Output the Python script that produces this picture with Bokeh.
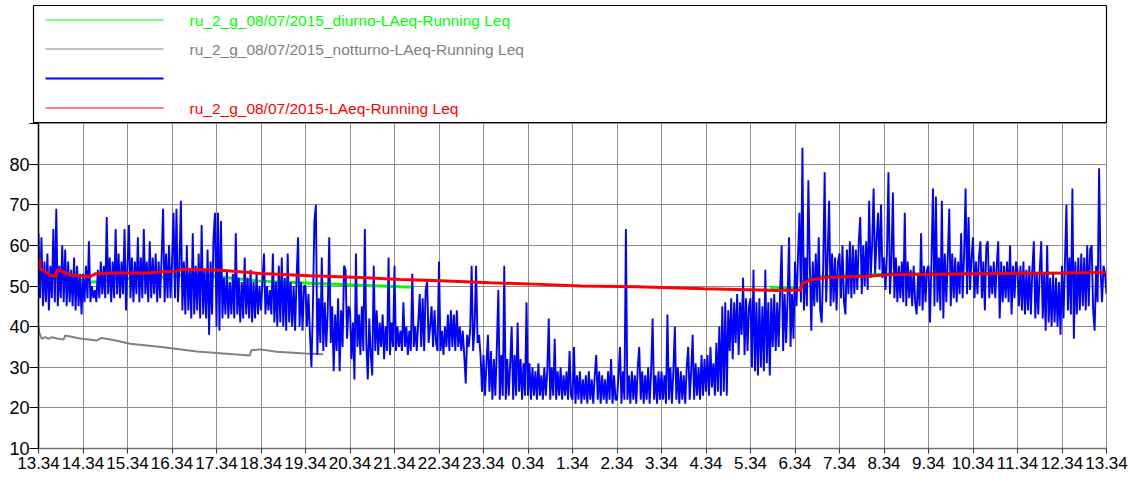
import numpy as np
from bokeh.plotting import figure
from bokeh.models import FixedTicker, Label, Range1d
from bokeh.core.properties import value
from bokeh.layouts import column, row
from bokeh.embed import file_html
from bokeh.resources import INLINE

# ---------------- data ----------------
# x axis: minutes elapsed since 13.34 (24 h window)
tick_minutes = list(range(0, 1441, 60))
hour_labels = ["13.34", "14.34", "15.34", "16.34", "17.34", "18.34", "19.34",
               "20.34", "21.34", "22.34", "23.34", "0.34", "1.34", "2.34",
               "3.34", "4.34", "5.34", "6.34", "7.34", "8.34", "9.34",
               "10.34", "11.34", "12.34", "13.34"]
y_ticks = [10, 20, 30, 40, 50, 60, 70, 80, 90]

legend_labels = ["ru_2_g_08/07/2015_diurno-LAeq-Running Leq",
                 "ru_2_g_08/07/2015_notturno-LAeq-Running Leq",
                 "",
                 "ru_2_g_08/07/2015-LAeq-Running Leq"]

# blue: short LAeq samples, one value every 2 minutes (30 per hour)
blue_step_min = 2
blue_db = [
    # 13.34
    63, 47, 62, 45, 56, 46, 58, 44, 55, 47, 64, 46, 69, 45, 55, 47, 60, 46, 59, 45,
    56, 46, 54, 45, 57, 44, 55, 45, 53, 43,
    # 14.34
    53, 46, 55, 47, 61, 46, 50, 47, 49, 46, 54, 47, 56, 48, 55, 47, 67, 48, 57, 46,
    56, 47, 64, 48, 58, 47, 56, 48, 64, 44,
    # 15.34
    55, 65, 47, 57, 46, 56, 48, 62, 46, 57, 47, 64, 48, 56, 46, 61, 47, 57, 48, 58,
    46, 56, 47, 57, 69, 46, 58, 47, 60, 47,
    # 16.34
    56, 68, 47, 69, 46, 55, 71, 44, 56, 43, 60, 44, 54, 42, 63, 43, 55, 44, 58, 42,
    65, 43, 54, 42, 59, 38, 56, 43, 62, 68,
    # 17.34
    40, 68, 39, 66, 42, 52, 43, 54, 42, 51, 43, 53, 42, 63, 43, 52, 41, 51, 42, 57,
    43, 52, 42, 54, 41, 51, 42, 53, 43, 50,
    # 18.34
    44, 51, 58, 43, 50, 44, 49, 43, 58, 41, 51, 40, 55, 41, 57, 40, 52, 39, 58, 41,
    51, 40, 50, 39, 52, 62, 40, 51, 39, 50,
    # 19.34
    50, 40, 48, 38, 30, 45, 66, 70, 33, 47, 36, 57, 34, 46, 35, 44, 62, 36, 45, 29,
    43, 34, 47, 29, 44, 35, 55, 54, 37, 45,
    # 20.34
    44, 32, 41, 27, 58, 35, 43, 33, 45, 34, 64, 36, 27, 42, 33, 28, 55, 34, 44, 33,
    41, 35, 43, 32, 40, 34, 57, 33, 41, 35,
    # 21.34
    55, 34, 40, 35, 39, 34, 46, 35, 40, 33, 39, 34, 53, 35, 40, 34, 41, 48, 35, 47,
    34, 49, 51, 36, 40, 45, 35, 44, 36, 34,
    # 22.34
    56, 34, 39, 33, 40, 35, 43, 34, 44, 35, 43, 34, 44, 35, 40, 34, 39, 33, 26, 38,
    35, 39, 55, 34, 40, 55, 36, 38, 33, 24,
    # 23.34
    33, 23, 31, 38, 24, 34, 22, 32, 23, 35, 49, 22, 33, 23, 55, 22, 32, 23, 31, 40,
    22, 33, 23, 41, 24, 32, 22, 31, 23, 46,
    # 0.34
    23, 31, 22, 30, 23, 29, 22, 31, 23, 28, 22, 30, 23, 29, 42, 22, 30, 23, 37, 22,
    29, 23, 30, 22, 28, 23, 29, 22, 34, 23,
    # 1.34
    22, 35, 21, 28, 22, 29, 21, 27, 22, 28, 21, 29, 22, 27, 21, 28, 33, 22, 29, 21,
    28, 22, 27, 21, 29, 22, 32, 21, 28, 22,
    # 2.34
    22, 28, 35, 21, 29, 22, 64, 22, 28, 21, 29, 22, 28, 21, 30, 35, 22, 29, 21, 28,
    22, 30, 21, 29, 42, 22, 28, 21, 29, 22,
    # 3.34
    29, 22, 28, 21, 43, 22, 30, 21, 29, 40, 22, 30, 21, 29, 22, 28, 21, 30, 35, 22,
    29, 38, 22, 31, 23, 30, 22, 33, 23, 32,
    # 4.34
    24, 33, 23, 35, 25, 31, 23, 36, 24, 40, 23, 45, 24, 46, 23, 44, 34, 47, 32, 46,
    36, 48, 33, 46, 38, 52, 33, 47, 34, 45,
    # 5.34
    47, 30, 54, 29, 46, 28, 47, 30, 45, 29, 54, 31, 46, 28, 47, 35, 48, 34, 46, 35,
    49, 60, 34, 48, 36, 47, 62, 35, 48, 37,
    # 6.34
    56, 45, 57, 68, 46, 84, 44, 57, 45, 76, 55, 39, 56, 45, 58, 46, 62, 44, 41, 55,
    78, 46, 57, 71, 45, 58, 46, 57, 44, 56,
    # 7.34
    58, 47, 60, 46, 43, 59, 48, 61, 47, 60, 48, 59, 49, 61, 67, 48, 60, 50, 61, 49,
    71, 52, 60, 74, 53, 61, 68, 54, 70, 52,
    # 8.34
    57, 49, 58, 78, 48, 56, 73, 47, 57, 46, 55, 47, 56, 46, 68, 45, 56, 47, 54, 45,
    55, 46, 43, 53, 45, 63, 44, 55, 46, 54,
    # 9.34
    55, 41, 56, 74, 45, 72, 46, 57, 44, 71, 42, 58, 46, 57, 69, 45, 58, 47, 57, 46,
    56, 48, 63, 47, 58, 74, 48, 67, 49, 57,
    # 10.34
    62, 47, 56, 48, 57, 61, 47, 56, 44, 60, 61, 47, 55, 48, 56, 47, 55, 61, 42, 56,
    46, 55, 47, 56, 46, 60, 43, 55, 47, 56,
    # 11.34
    54, 45, 55, 44, 56, 43, 54, 44, 55, 43, 54, 61, 42, 53, 43, 54, 61, 42, 53, 39,
    60, 41, 52, 40, 53, 41, 52, 40, 51, 38,
    # 12.34
    55, 42, 56, 70, 44, 57, 43, 74, 37, 56, 43, 57, 44, 58, 45, 57, 44, 60, 45, 59,
    60, 44, 39, 55, 46, 79, 54, 46, 55, 53,
    # 13.34
    48,
]

# red: overall running Leq
red_min = [0, 1, 2.2, 9, 15.7, 23.8, 24.7, 33.7, 42.7, 69.7, 76.4, 101, 146,
           168.5, 186, 193, 227, 245, 299, 366, 434, 488, 542, 609, 677, 731,
           807, 897, 973, 996, 1028, 1030, 1041, 1061, 1117, 1149, 1217, 1300,
           1380, 1440]
red_db = [55.5, 57, 54.3, 53.5, 52.7, 52.3, 54, 53.5, 52.7, 52.3, 53, 53.2, 53.2,
          53.5, 53.6, 54.1, 54, 53.9, 53.1, 52.5, 52.1, 51.6, 51.3, 50.8, 50.4, 50,
          49.8, 49.3, 49, 48.9, 49, 50.6, 51.5, 52.1, 52.4, 52.8, 52.9, 53.1,
          53.2, 53.3]

# green: day-time running Leq (06-22), gap during the night
green_min = [0, 1, 2.2, 9, 15.7, 23.8, 24.7, 33.7, 42.7, 69.7, 83, 101, 146,
             168.5, 186, 193, 227, 245, 299, 366, 434, 488, 506, np.nan,
             986, 1000, 1028, 1030, 1041, 1061, 1117, 1149, 1217, 1300, 1380, 1440]
green_db = [55.5, 57, 54.3, 53.3, 52.4, 51.8, 53.2, 52.5, 51.7, 51.0, 51.0, 51.8,
            51.9, 52.2, 52.3, 52.7, 52.6, 52.2, 51.2, 50.7, 50.2, 49.8, 49.7, np.nan,
            49.7, 49.6, 49.7, 51.0, 51.9, 52.4, 52.7, 53.0, 53.0, 53.1, 53.2, 53.3]

# gray: night-time running Leq
gray_min = [0, 1, 4.5, 9, 13.5, 18, 24.7, 33.7, 36, 56, 78.6, 85, 101, 123.5,
            168.5, 213.5, 285, 287, 299, 321, 360, 384]
gray_db = [40.2, 38.5, 37.0, 37.4, 37.0, 37.4, 37.1, 36.8, 37.8, 37.1, 36.6,
           37.2, 36.7, 35.8, 34.9, 33.9, 32.9, 34.2, 34.4, 33.8, 33.4, 33.2]

GREEN = "#00ff00"
GRAY = "#808080"
BLUE = "#0000ff"
RED = "#ff0000"
FONT = "Liberation Sans"

blue_min = np.arange(len(blue_db)) * blue_step_min

# ---------------- legend panel (boxed), laid out in panel pixels ----------------
LEG_W, LEG_H = 1073, 117
lf = figure(width=1138, height=123, x_range=Range1d(0, LEG_W), y_range=Range1d(LEG_H, 0),
            output_backend="svg", toolbar_location=None,
            x_axis_location=None, y_axis_location=None,
            min_border_left=33, min_border_right=32,
            min_border_top=5, min_border_bottom=1)
lf.grid.visible = False
lf.outline_line_color = "black"
lf.outline_line_width = 1.2

leg_colors = [GREEN, GRAY, BLUE, RED]
leg_widths = [1, 1, 2, 1]
leg_rows = [14.5, 43.5, 73, 102.5]
lf.segment(x0=[12] * 4, x1=[130] * 4, y0=leg_rows, y1=leg_rows,
           line_color=leg_colors, line_width=leg_widths)
lf.text(x=[156] * 4, y=leg_rows, text=legend_labels, text_color=leg_colors,
        text_baseline="middle", text_align="left",
        text_font=value(FONT), text_font_size="15.5px")

# ---------------- main plot ----------------
p = figure(width=1138, height=360, x_range=Range1d(0, 1440), y_range=Range1d(10, 90),
           output_backend="svg", toolbar_location=None,
           min_border_left=38, min_border_right=32,
           min_border_top=0, min_border_bottom=35)
p.outline_line_color = "#8c8c8c"
p.background_fill_color = "white"

p.line(green_min, green_db, line_color=GREEN, line_width=3)
p.line(gray_min, gray_db, line_color=GRAY, line_width=2)
p.line(blue_min, blue_db, line_color=BLUE, line_width=1.9)
p.line(red_min, red_db, line_color=RED, line_width=3)

p.xaxis.ticker = FixedTicker(ticks=tick_minutes)
p.xaxis.major_label_overrides = {m: lab for m, lab in zip(tick_minutes, hour_labels)}
p.yaxis.ticker = FixedTicker(ticks=y_ticks)
p.yaxis.major_label_overrides = {90: ""}
p.axis.minor_tick_line_color = None
p.axis.major_tick_in = 0
p.xaxis.major_tick_out = 5
p.yaxis.major_tick_out = 9
p.xaxis.major_label_standoff = 3
p.yaxis.major_label_standoff = 0
p.axis.major_label_text_font = FONT
p.xaxis.major_label_text_font_size = "17px"
p.yaxis.major_label_text_font_size = "18px"
p.axis.major_label_text_color = "black"
p.yaxis.axis_line_color = "black"
p.yaxis.axis_line_width = 1.5
p.yaxis.major_tick_line_color = "black"
p.xaxis.axis_line_color = "#707070"
p.xaxis.axis_line_width = 1.5
p.xaxis.major_tick_line_color = "#303030"

p.grid.grid_line_color = "#8c8c8c"
p.grid.grid_line_width = 1

p.add_layout(Label(x=-10, y=75, x_units="screen", y_units="data", text="dB",
                   text_align="right", text_baseline="middle",
                   text_font=FONT, text_font_size="17px", text_color="black"))

# the legend panel is wrapped on its own so its box keeps its own left edge
layout = column(row(lf), p, spacing=0)
open("out.html", "w").write(file_html(layout, INLINE))
